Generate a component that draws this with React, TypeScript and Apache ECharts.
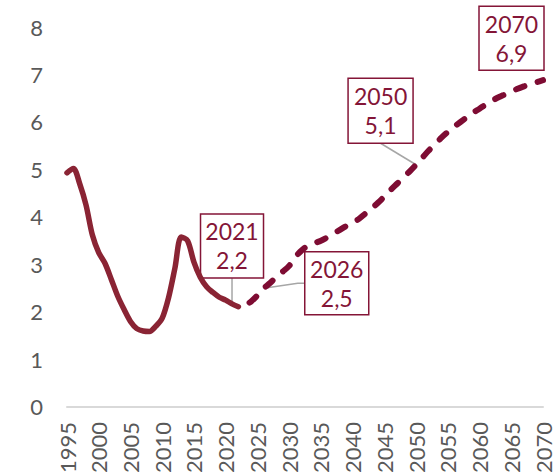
import { useEffect, useRef } from "react";
import * as echarts from "echarts";

const histYears = [1995, 1996, 1997, 1998, 1999, 2000, 2001, 2002, 2003, 2004, 2005, 2006, 2007, 2008, 2009, 2010, 2011, 2012, 2013, 2014, 2015, 2016, 2017, 2018, 2019, 2020, 2021, 2022];
const histValues = [4.93, 5.02, 4.7, 4.25, 3.62, 3.25, 3.02, 2.68, 2.33, 2.05, 1.8, 1.65, 1.6, 1.59, 1.7, 1.87, 2.3, 2.92, 3.58, 3.5, 3.05, 2.73, 2.53, 2.41, 2.31, 2.25, 2.17, 2.11];

const projYears = [2022, 2023, 2024, 2025, 2026, 2027, 2028, 2029, 2030, 2031, 2032, 2033, 2034, 2035, 2036, 2037, 2038, 2039, 2040, 2041, 2042, 2043, 2044, 2045, 2046, 2047, 2048, 2049, 2050, 2051, 2052, 2053, 2054, 2055, 2056, 2057, 2058, 2059, 2060, 2061, 2062, 2063, 2064, 2065, 2066, 2067, 2068, 2069, 2070];
const projValues = [2.11, 2.14, 2.22, 2.35, 2.5, 2.61, 2.74, 2.85, 2.97, 3.16, 3.3, 3.4, 3.45, 3.5, 3.57, 3.65, 3.73, 3.81, 3.88, 3.96, 4.07, 4.18, 4.3, 4.43, 4.57, 4.7, 4.83, 4.96, 5.1, 5.25, 5.4, 5.53, 5.67, 5.79, 5.9, 6.0, 6.1, 6.2, 6.28, 6.37, 6.45, 6.52, 6.58, 6.64, 6.7, 6.75, 6.8, 6.84, 6.88];

const annotationYears = [2021, 2026, 2050, 2070];
const annotationTexts = ["2021\n2,2", "2026\n2,5", "2050\n5,1", "2070\n6,9"];

// layout of annotation boxes relative to their data point (pixels)
const boxLayout = [
  { dx: -31.5, dy: -90, w: 63, h: 64, leader: "down" },
  { dx: 41, dy: -36.5, w: 64, h: 63, leader: "left" },
  { dx: -68, dy: -86.5, w: 65, h: 65, leader: "diag" },
  { dx: -64, dy: -74, w: 65, h: 64, leader: "none" },
];

const FONT = "Lato, 'Open Sans', sans-serif";
const MAROON = "#841537";

function valueAt(year: number): number {
  const hi = histYears.indexOf(year);
  if (hi >= 0) return histValues[hi];
  return projValues[projYears.indexOf(year)];
}

export default function App() {
  const ref = useRef<HTMLDivElement>(null);
  useEffect(() => {
    document.body.style.margin = "0";
    const chart = echarts.init(ref.current!, undefined, { renderer: "svg" });
    chart.setOption({
      animation: false,
      backgroundColor: "#ffffff",
      grid: { left: 67, right: 16, top: 27, bottom: 64.5, containLabel: false },
      xAxis: {
        type: "value",
        min: 1995,
        max: 2070,
        interval: 5,
        axisLine: { show: true, onZero: false, lineStyle: { color: "#d9d9d9", width: 2 } },
        axisTick: { show: false },
        splitLine: { show: false },
        axisLabel: {
          rotate: 90,
          margin: 15,
          color: "#595959",
          fontSize: 22,
          fontFamily: FONT,
          formatter: (v: number) => String(v),
        },
      },
      yAxis: {
        type: "value",
        min: 0,
        max: 8,
        interval: 1,
        axisLine: { show: false },
        axisTick: { show: false },
        splitLine: { show: false },
        axisLabel: { margin: 24, color: "#595959", fontSize: 22, fontFamily: FONT },
      },
      series: [
        {
          type: "line",
          data: histYears.map((y, i) => [y, histValues[i]]),
          showSymbol: false,
          smooth: 0.3,
          z: 3,
          lineStyle: { color: "#8a2434", width: 5.5, cap: "round", join: "round" },
        },
        {
          type: "line",
          data: projYears.map((y, i) => [y, projValues[i]]),
          showSymbol: false,
          smooth: 0.3,
          z: 3,
          lineStyle: {
            color: "#7e0c33",
            width: 6,
            type: [9, 14],
            dashOffset: 11,
            cap: "round",
            join: "round",
          },
        },
      ],
    });

    const graphics: any[] = [];
    annotationYears.forEach((year, i) => {
      const p = chart.convertToPixel({ gridIndex: 0 }, [year, valueAt(year)]) as number[];
      const L = boxLayout[i];
      const rx = p[0] + L.dx;
      const ry = p[1] + L.dy;
      let pts: number[][] | null = null;
      if (L.leader === "down") pts = [[p[0], ry + L.h], [p[0], p[1]]];
      if (L.leader === "left") pts = [[p[0], p[1]], [rx - 7, ry + L.h / 2], [rx, ry + L.h / 2]];
      if (L.leader === "diag") pts = [[rx + L.w / 2, ry + L.h], [p[0], p[1]]];
      if (pts) {
        graphics.push({
          type: "polyline",
          z: 1,
          shape: { points: pts },
          style: { stroke: "#a6a6a6", lineWidth: 1.5, fill: null },
        });
      }
      graphics.push({
        type: "rect",
        z: 1,
        shape: { x: rx, y: ry, width: L.w, height: L.h },
        style: { fill: "#ffffff", stroke: MAROON, lineWidth: 1.5 },
      });
      graphics.push({
        type: "text",
        z: 2,
        x: rx + L.w / 2,
        y: ry + L.h / 2,
        style: {
          text: annotationTexts[i],
          fill: MAROON,
          fontSize: 23,
          fontFamily: FONT,
          align: "center",
          verticalAlign: "middle",
          lineHeight: 29,
        },
      });
    });
    chart.setOption({ graphic: graphics });

    return () => chart.dispose();
  }, []);
  return <div ref={ref} style={{ position: "fixed", left: 0, top: 0, width: 559, height: 476 }} />;
}
